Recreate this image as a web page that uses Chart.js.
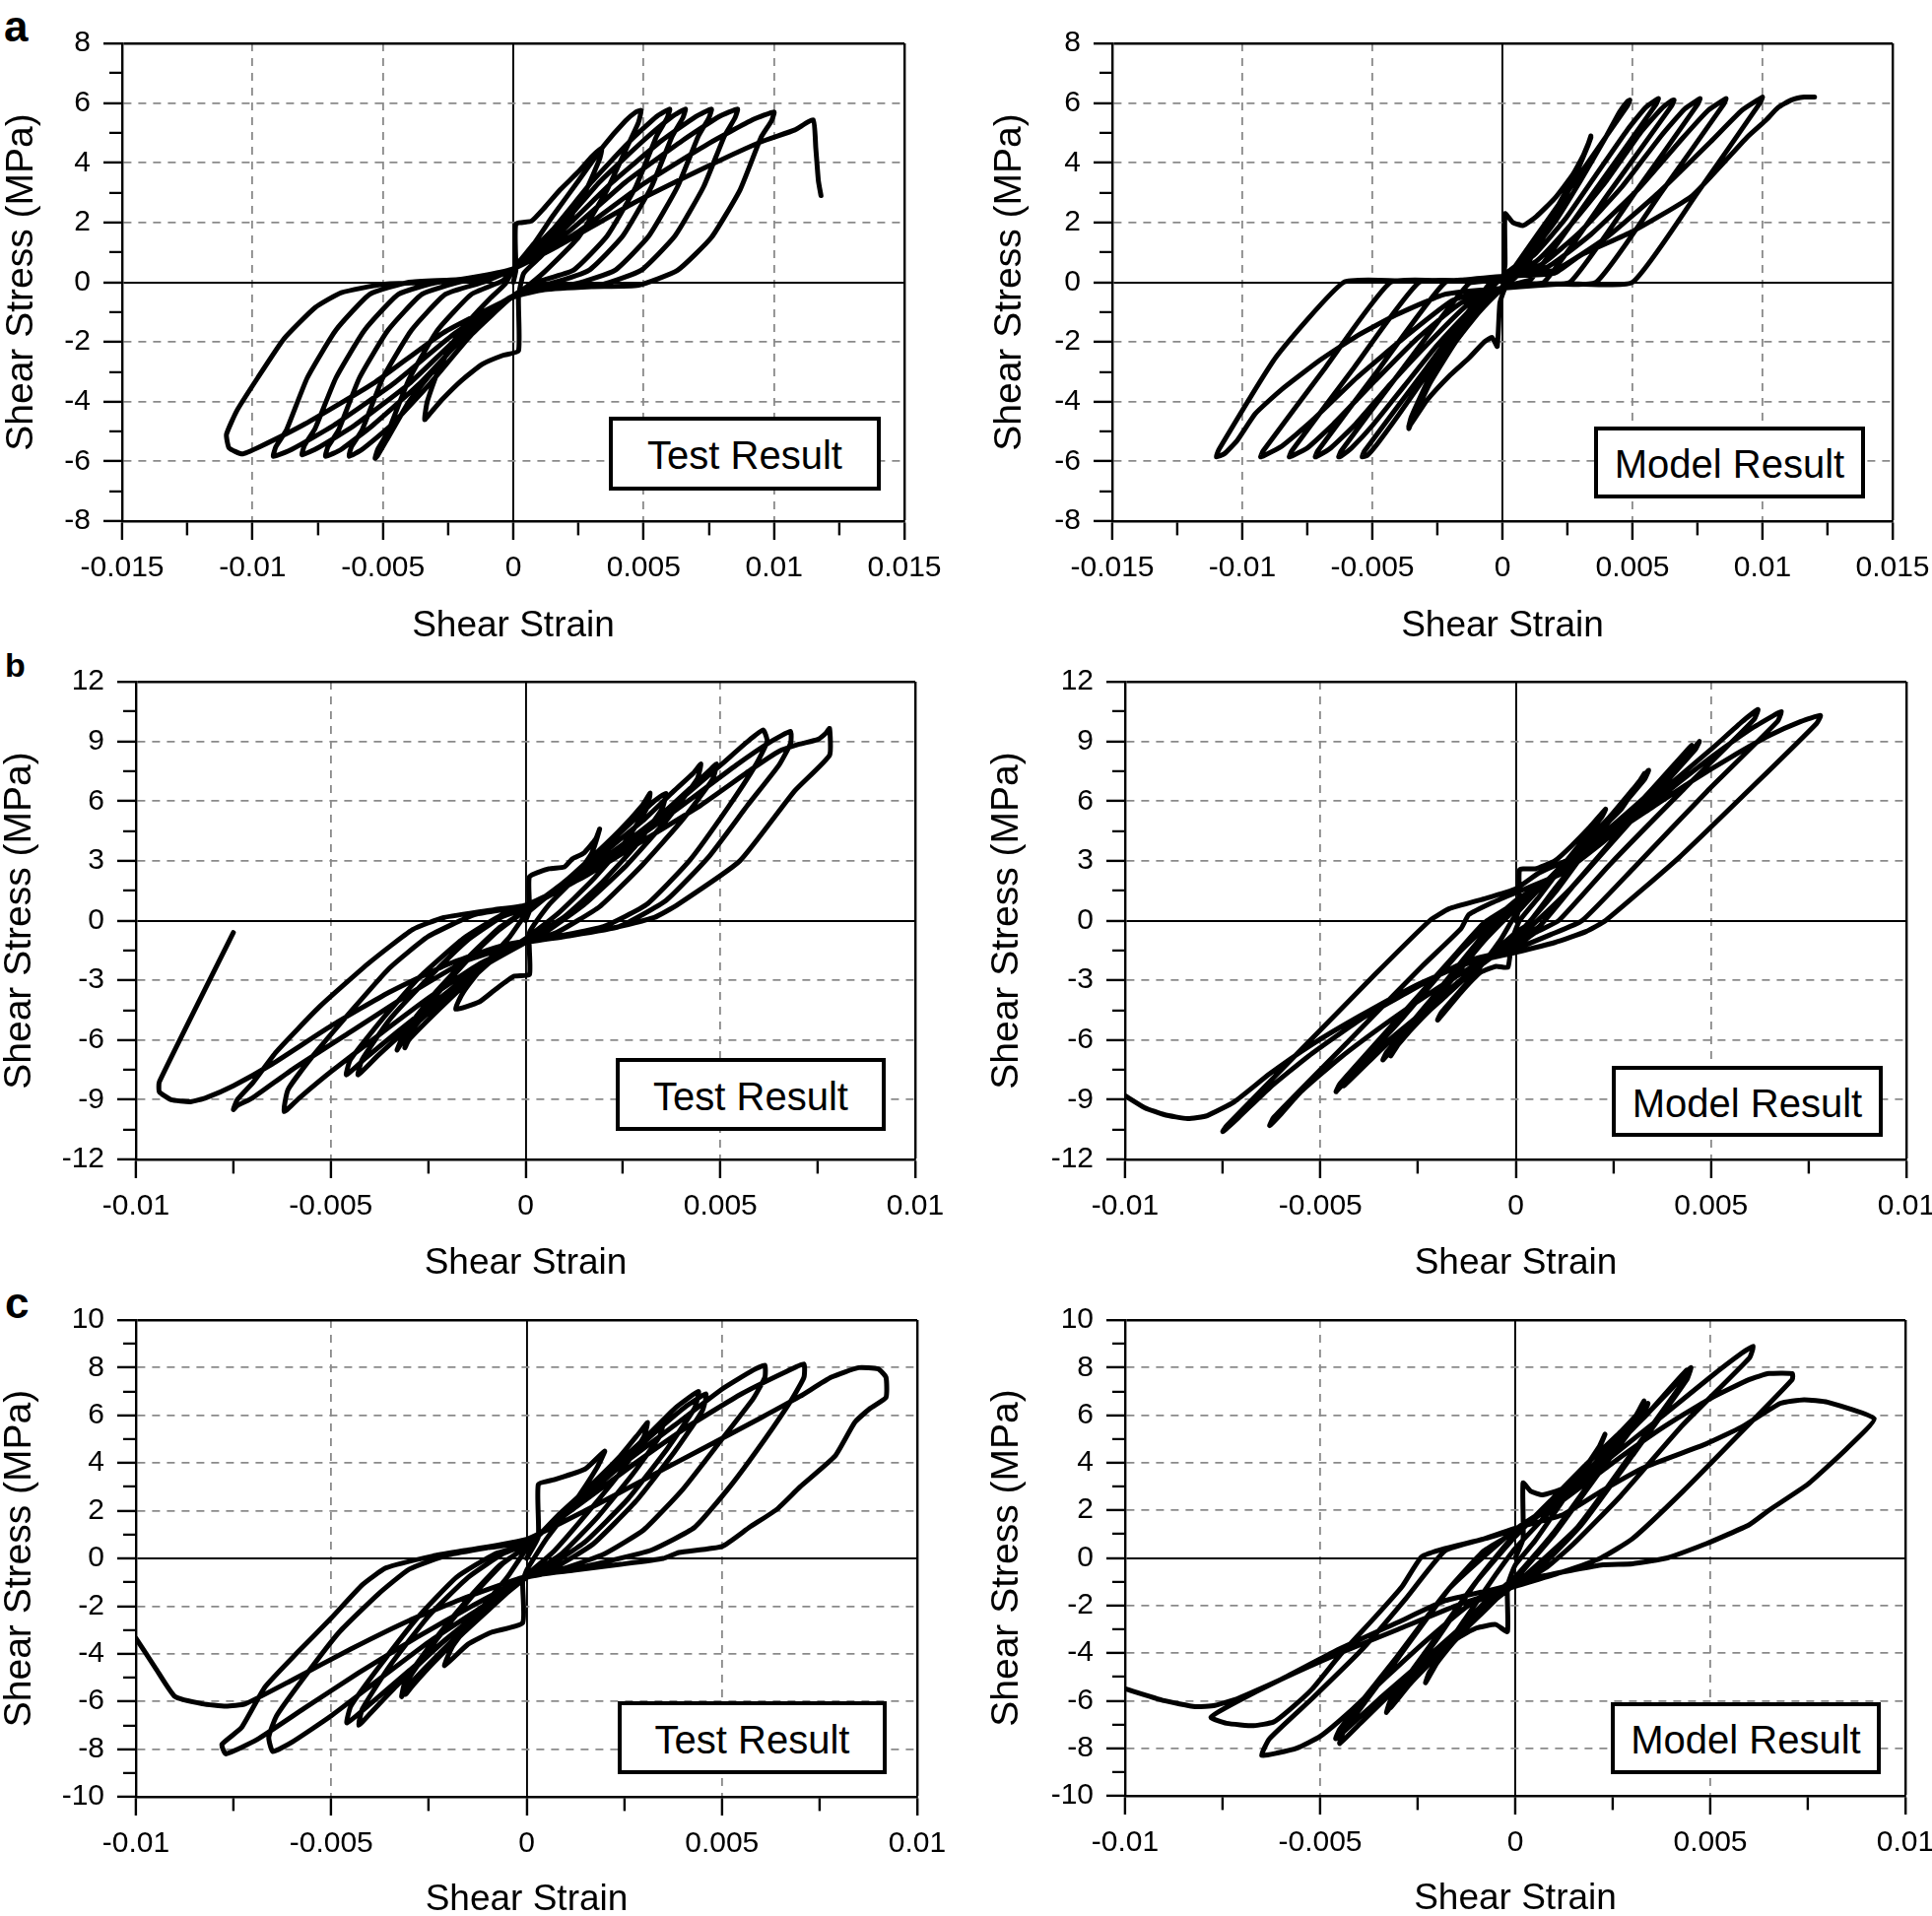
<!DOCTYPE html>
<html><head><meta charset="utf-8">
<script src="https://cdn.jsdelivr.net/npm/chart.js@4.4.1/dist/chart.umd.min.js"></script>
<style>
html,body{margin:0;padding:0;width:1961px;height:1945px;overflow:hidden;background:#fff;}
canvas{position:absolute;}
.lg{position:absolute;box-sizing:border-box;border:4px solid #000;background:#fff;font-family:'Liberation Sans',Arial,sans-serif;font-size:40px;color:#000;display:flex;align-items:center;justify-content:center;line-height:1;padding-top:3px;}
.pl{position:absolute;font-family:'Liberation Sans',Arial,sans-serif;font-weight:bold;line-height:1;color:#000;}
</style></head><body>
<div class="pl" style="left:4px;top:5px;font-size:44px;">a</div>
<div class="pl" style="left:5px;top:658px;font-size:34px;">b</div>
<div class="pl" style="left:5px;top:1301px;font-size:44px;">c</div>
<script>
// ---------- tick values ----------
const xTicksA = [-0.015, -0.01, -0.005, 0, 0.005, 0.01, 0.015];
const xMinorA = [-0.0125, -0.0075, -0.0025, 0.0025, 0.0075, 0.0125];
const yTicksA = [-8, -6, -4, -2, 0, 2, 4, 6, 8];
const yMinorA = [-7, -5, -3, -1, 1, 3, 5, 7];
const xTicksBC = [-0.01, -0.005, 0, 0.005, 0.01];
const xMinorBC = [-0.0075, -0.0025, 0.0025, 0.0075];
const yTicksB = [-12, -9, -6, -3, 0, 3, 6, 9, 12];
const yMinorB = [-10.5, -7.5, -4.5, -1.5, 1.5, 4.5, 7.5, 10.5];
const yTicksC = [-10, -8, -6, -4, -2, 0, 2, 4, 6, 8, 10];
const yMinorC = [-9, -7, -5, -3, -1, 1, 3, 5, 7, 9];
const xTitle = 'Shear Strain';
const yTitle = 'Shear Stress (MPa)';
const boxLabels = ['Test Result', 'Model Result'];

// ---------- series: [shear strain, shear stress (MPa)] ----------
const aTest = [
 [0,0],[0.0001,0.4],[0.0001,1.95],[0.0007,2.05],[0.0012,2.5],[0.0018,3.1],[0.0025,3.7],[0.003,4.2],[0.0034,4.5],
 [0.0033,4.1],[0.0028,3.1],[0.002,1.9],[0.0011,0.9],[0.0004,0.3],[0.0002,-0.5],[0.0002,-2.3],[-0.0004,-2.45],[-0.0012,-2.75],[-0.002,-3.3],[-0.0027,-3.9],[-0.0031,-4.3],[-0.0034,-4.6],
 [-0.0033,-4.0],[-0.0029,-3.0],[-0.0023,-2.0],[-0.0016,-1.2],[-0.0009,-0.55],[-0.0003,-0.05],[0,0.45],
 [0.0008,1.3],[0.0015,2.2],[0.0025,3.4],[0.0035,4.6],[0.0043,5.4],[0.0047,5.7],[0.0049,5.75],
 [0.0048,5.35],[0.0044,4.6],[0.0036,3.1],[0.0025,1.5],[0.0012,0.35],[0.0003,-0.3],[-0.0002,-0.6],
 [-0.001,-1.1],[-0.002,-1.9],[-0.003,-2.9],[-0.004,-4.0],[-0.0048,-5.2],[-0.0052,-5.8],[-0.0053,-5.9],
 [-0.0052,-5.6],[-0.0048,-5.0],[-0.004,-3.25],[-0.0029,-1.6],[-0.0016,-0.4],[-0.0004,0.05],[0,0.45],
 [0.0015,1.75],[0.003,3.35],[0.0045,4.75],[0.0055,5.55],[0.006,5.8],
 [0.0059,5.5],[0.0055,4.9],[0.0047,3.2],[0.0036,1.55],[0.0023,0.4],[0.0008,-0.02],[0,-0.45],
 [-0.0016,-1.75],[-0.0032,-3.4],[-0.0047,-4.8],[-0.0058,-5.6],[-0.0063,-5.83],
 [-0.0062,-5.5],[-0.0058,-4.95],[-0.005,-3.2],[-0.0039,-1.6],[-0.0026,-0.4],[-0.0011,0.02],[0,0.45],
 [0.0017,1.75],[0.0033,3.35],[0.005,4.75],[0.0061,5.55],[0.0066,5.8],
 [0.0065,5.5],[0.0061,4.9],[0.0053,3.2],[0.0042,1.55],[0.0029,0.4],[0.0014,-0.05],[0.0005,-0.2],[0,-0.45],
 [-0.0018,-1.75],[-0.0036,-3.4],[-0.0054,-4.8],[-0.0066,-5.6],[-0.0072,-5.83],
 [-0.0071,-5.5],[-0.0067,-4.95],[-0.0059,-3.2],[-0.0048,-1.6],[-0.0035,-0.4],[-0.002,0.02],[-0.0008,0.15],[0,0.45],
 [0.0019,1.75],[0.0038,3.35],[0.0057,4.75],[0.007,5.55],[0.0076,5.8],
 [0.0075,5.5],[0.0071,4.9],[0.0063,3.2],[0.0052,1.55],[0.0039,0.4],[0.0024,-0.05],[0.0008,-0.2],[0,-0.45],
 [-0.002,-1.75],[-0.004,-3.4],[-0.0061,-4.8],[-0.0075,-5.55],[-0.0081,-5.78],
 [-0.008,-5.45],[-0.0076,-4.9],[-0.0068,-3.2],[-0.0057,-1.6],[-0.0044,-0.4],[-0.0029,0.0],[-0.0012,0.1],[0,0.45],
 [0.0022,1.75],[0.0043,3.35],[0.0065,4.75],[0.0079,5.55],[0.0086,5.8],
 [0.0085,5.5],[0.0081,4.9],[0.0073,3.2],[0.0062,1.55],[0.0049,0.4],[0.0034,-0.08],[0.0015,-0.2],[0,-0.45],
 [-0.0023,-1.75],[-0.0046,-3.4],[-0.0069,-4.8],[-0.0085,-5.6],[-0.0092,-5.83],
 [-0.0091,-5.5],[-0.0087,-4.95],[-0.0079,-3.2],[-0.0068,-1.6],[-0.0055,-0.4],[-0.004,0.0],[-0.002,0.1],[0,0.45],
 [0.0025,1.7],[0.005,3.3],[0.0075,4.65],[0.0092,5.45],[0.01,5.7],
 [0.0099,5.4],[0.0095,4.85],[0.0087,3.1],[0.0076,1.5],[0.0063,0.4],[0.0048,-0.1],[0.003,-0.15],[0.0012,-0.25],[0,-0.5],
 [-0.0027,-1.7],[-0.0053,-3.35],[-0.008,-4.75],[-0.0097,-5.5],[-0.0104,-5.75],[-0.0109,-5.55],[-0.011,-5.1],
 [-0.0106,-4.3],[-0.0098,-3.2],[-0.0088,-1.9],[-0.0076,-0.85],[-0.0066,-0.35],[-0.005,-0.07],[-0.003,0.0],[-0.0015,0.1],[0,0.45],
 [0.0017,1.2],[0.0045,2.6],[0.0075,3.9],[0.0095,4.7],[0.0108,5.1],[0.0115,5.44],[0.0116,4.5],[0.0117,3.4],[0.0118,2.9]
];
const aModel = [
 [0,0],[0.0001,0.6],[0.0001,2.3],[0.0004,2.0],[0.0008,1.9],[0.0013,2.2],[0.002,2.8],[0.0027,3.6],[0.0032,4.4],[0.0034,4.9],
 [0.0033,4.6],[0.0025,3.0],[0.0015,1.4],[0.0007,0.5],[0.0001,-0.2],[-0.0001,-0.7],[-0.0002,-2.15],[-0.0004,-1.85],[-0.0007,-2.0],[-0.0013,-2.55],[-0.002,-3.1],[-0.0029,-3.95],[-0.0036,-4.85],
 [-0.0035,-4.5],[-0.0027,-3.0],[-0.0017,-1.5],[-0.0008,-0.45],[0,0.15],
 [0.0008,0.8],[0.0017,1.9],[0.0026,3.3],[0.0033,4.6],[0.0034,4.85],
 [0.0026,3.2],[0.0016,1.6],[0.0008,0.4],[0,-0.2],
 [-0.0009,-1.0],[-0.0018,-2.0],[-0.0028,-3.4],[-0.0035,-4.7],[-0.0036,-4.9],
 [-0.0027,-3.0],[-0.0017,-1.5],[-0.0008,-0.45],[0,0.2],
 [0.001,0.9],[0.002,2.0],[0.003,3.4],[0.004,4.9],[0.0045,5.7],[0.0048,6.05],[0.0049,6.1],
 [0.0048,5.9],[0.0024,2.9],[0.0003,0.3],[0,-0.15],
 [-0.001,-0.9],[-0.002,-2.0],[-0.003,-3.2],[-0.004,-4.45],[-0.0048,-5.4],[-0.0052,-5.8],[-0.0054,-5.85],
 [-0.0053,-5.65],[-0.0029,-2.85],[-0.0005,-0.05],[0,0.2],
 [0.0012,0.9],[0.0024,2.1],[0.0036,3.6],[0.0048,5.1],[0.0055,5.85],[0.0059,6.1],[0.006,6.15],
 [0.0059,5.95],[0.0035,3.0],[0.0011,0.1],[0.0005,-0.05],[0,-0.2],
 [-0.0012,-0.9],[-0.0025,-2.1],[-0.0038,-3.5],[-0.005,-4.8],[-0.0058,-5.55],[-0.0062,-5.82],[-0.0063,-5.85],
 [-0.0062,-5.65],[-0.0038,-2.85],[-0.0013,-0.05],[-0.0005,0.05],[0,0.2],
 [0.0013,0.7],[0.0026,1.9],[0.004,3.4],[0.0053,5.0],[0.0061,5.8],[0.0065,6.08],[0.0066,6.1],
 [0.0065,5.9],[0.0041,3.0],[0.0016,0.0],[0.0006,-0.05],[0,-0.2],
 [-0.0014,-0.8],[-0.0028,-2.0],[-0.0043,-3.4],[-0.0057,-4.8],[-0.0066,-5.55],[-0.0071,-5.82],[-0.0072,-5.85],
 [-0.0071,-5.65],[-0.0047,-2.85],[-0.0022,0.0],[-0.0008,0.05],[0,0.2],
 [0.0015,0.6],[0.003,1.7],[0.0046,3.2],[0.0061,4.9],[0.007,5.8],[0.0075,6.1],[0.0076,6.15],
 [0.0075,5.95],[0.0051,3.0],[0.0026,0.0],[0.001,-0.05],[0,-0.2],
 [-0.0016,-0.7],[-0.0033,-1.9],[-0.0049,-3.3],[-0.0065,-4.75],[-0.0075,-5.55],[-0.0081,-5.82],[-0.0082,-5.85],
 [-0.0081,-5.65],[-0.0057,-2.85],[-0.0032,0.0],[-0.0012,0.05],[0,0.2],
 [0.0017,0.5],[0.0034,1.6],[0.0052,3.1],[0.0069,4.8],[0.0079,5.75],[0.0085,6.1],[0.0086,6.15],
 [0.0085,5.95],[0.0061,3.0],[0.0036,0.0],[0.0015,-0.05],[0,-0.2],
 [-0.0019,-0.6],[-0.0037,-1.8],[-0.0056,-3.2],[-0.0074,-4.7],[-0.0085,-5.5],[-0.0092,-5.82],[-0.0093,-5.85],
 [-0.0092,-5.65],[-0.0068,-2.85],[-0.0043,0.0],[-0.002,0.05],[0,0.2],
 [0.002,0.4],[0.004,1.5],[0.006,3.0],[0.008,4.7],[0.0092,5.75],[0.0099,6.15],[0.01,6.2],
 [0.0099,6.0],[0.0075,3.0],[0.005,0.0],[0.0025,-0.05],[0,-0.2],
 [-0.0022,-0.4],[-0.0041,-1.1],[-0.0056,-1.8],[-0.007,-2.6],[-0.0085,-3.6],[-0.0095,-4.4],[-0.0102,-5.3],[-0.0107,-5.75],[-0.011,-5.85],
 [-0.0109,-5.6],[-0.0087,-2.5],[-0.0061,0.0],[-0.004,0.05],[-0.002,0.05],[0,0.2],
 [0.002,0.3],[0.003,0.9],[0.005,1.7],[0.0073,2.9],[0.0094,4.85],[0.0101,5.4],[0.0106,5.85],[0.0111,6.1],[0.0116,6.2],[0.012,6.2]
];
const bTest = [
 [0,0],[0.0001,0.5],[0.0001,2.2],[0.0006,2.6],[0.001,2.7],[0.0012,3.1],[0.0015,3.4],[0.0018,4.1],[0.0019,4.6],
 [0.0017,3.4],[0.0012,2.0],[0.0006,0.8],[0.0001,-0.6],[0.0001,-2.7],[-0.0003,-2.8],[-0.0008,-3.5],[-0.0012,-4.1],[-0.0018,-4.45],
 [-0.0016,-3.6],[-0.001,-2.1],[-0.0004,-0.8],[0,0.3],
 [0.0008,1.6],[0.0016,3.0],[0.0024,4.5],[0.003,5.8],[0.0032,6.4],
 [0.0031,5.6],[0.0025,3.8],[0.0017,2.0],[0.0008,0.3],[0,-0.9],
 [-0.0008,-1.9],[-0.0016,-3.3],[-0.0024,-4.8],[-0.003,-6.0],[-0.0031,-6.4],
 [-0.003,-5.7],[-0.0024,-4.0],[-0.0015,-2.0],[-0.0007,-0.5],[0,0.5],
 [0.0009,1.8],[0.0018,3.3],[0.0027,4.9],[0.0033,6.0],[0.0036,6.4],
 [0.0035,5.6],[0.0028,3.7],[0.0019,1.8],[0.001,0.2],[0,-1.0],
 [-0.0009,-2.0],[-0.0018,-3.5],[-0.0027,-5.0],[-0.0032,-6.2],[-0.0033,-6.5],
 [-0.0031,-5.6],[-0.0024,-3.8],[-0.0015,-1.9],[-0.0007,-0.4],[0,0.5],
 [0.001,1.8],[0.002,3.4],[0.003,5.0],[0.0038,6.5],[0.0043,7.4],[0.0045,7.86],
 [0.0044,7.1],[0.0036,5.0],[0.0026,2.8],[0.0015,0.8],[0.0005,-0.6],[0,-1.1],
 [-0.001,-2.2],[-0.002,-3.8],[-0.003,-5.4],[-0.0038,-6.8],[-0.0043,-7.75],
 [-0.0042,-7.0],[-0.0035,-5.0],[-0.0025,-2.9],[-0.0015,-1.0],[-0.0006,0.2],[0,0.6],
 [0.0011,1.8],[0.0022,3.4],[0.0033,5.0],[0.0042,6.6],[0.0047,7.5],[0.0049,7.86],
 [0.0048,7.1],[0.004,5.0],[0.003,2.8],[0.0019,0.7],[0.0008,-0.6],[0,-1.1],
 [-0.0011,-2.2],[-0.0022,-3.9],[-0.0033,-5.6],[-0.0041,-6.9],[-0.0046,-7.75],
 [-0.0045,-7.0],[-0.0037,-5.0],[-0.0027,-2.8],[-0.0016,-0.9],[-0.0006,0.3],[0,0.65],
 [0.0012,1.9],[0.0025,3.8],[0.0038,5.8],[0.005,7.8],[0.0057,9.0],[0.0061,9.57],
 [0.0062,9.0],[0.0059,7.8],[0.0052,5.7],[0.0042,3.0],[0.0031,0.8],[0.002,-0.3],[0.0008,-0.8],[0,-1.1],
 [-0.0012,-2.2],[-0.0025,-3.9],[-0.0038,-5.8],[-0.005,-7.6],[-0.0058,-8.9],[-0.0062,-9.6],
 [-0.0061,-8.5],[-0.0055,-6.9],[-0.0045,-4.6],[-0.0035,-2.4],[-0.0025,-0.8],[-0.0013,0.3],[0,0.75],
 [0.0013,2.0],[0.0027,3.9],[0.0041,5.9],[0.0054,7.8],[0.0063,9.0],[0.0068,9.5],
 [0.0068,8.9],[0.0065,7.8],[0.0057,5.8],[0.0047,3.2],[0.0036,1.0],[0.0024,-0.3],[0.001,-0.8],[0,-1.1],
 [-0.0015,-2.0],[-0.003,-3.7],[-0.0045,-5.6],[-0.006,-7.5],[-0.007,-8.9],[-0.0074,-9.3],[-0.0075,-9.5],
 [-0.0074,-9.0],[-0.007,-8.15],[-0.0064,-6.6],[-0.0053,-4.35],[-0.004,-2.1],[-0.0029,-0.45],[-0.0021,0.15],[-0.0008,0.55],[0,0.78],
 [0.0015,2.2],[0.003,4.0],[0.0045,5.8],[0.0058,7.6],[0.0065,8.5],[0.007,8.85],[0.0075,9.1],[0.0077,9.4],[0.0078,9.65],[0.0078,8.3],
 [0.0069,6.5],[0.0055,3.0],[0.0039,0.8],[0.0033,0.15],[0.0023,-0.35],[0.0007,-0.85],[-0.0005,-1.2],[-0.002,-2.2],
 [-0.0035,-3.6],[-0.005,-5.3],[-0.0065,-7.2],[-0.0075,-8.3],[-0.0082,-8.9],[-0.0086,-9.1],[-0.0091,-9.0],[-0.0094,-8.6],[-0.0094,-8.1],[-0.0075,-0.6]
];
const bModel = [
 [0,0],[0.0001,0.8],[0.0001,2.55],[0.0005,2.6],[0.001,3.0],[0.0014,3.7],[0.0019,4.7],[0.0023,5.6],
 [0.0022,5.2],[0.0013,3.0],[0.0006,1.2],[0.0001,0.0],[-0.0001,-1.0],[-0.0002,-2.35],[-0.0005,-2.3],[-0.0009,-2.6],[-0.0014,-3.6],[-0.002,-5.0],
 [-0.0019,-4.6],[-0.0011,-2.8],[-0.0004,-1.0],[0,0.3],
 [0.0008,2.0],[0.0016,3.6],[0.0024,5.2],[0.003,6.6],[0.0034,7.55],
 [0.0033,7.1],[0.0021,4.3],[0.001,1.6],[0.0003,-0.2],[0,-0.6],
 [-0.0008,-2.0],[-0.0016,-3.4],[-0.0024,-4.9],[-0.003,-6.2],[-0.0032,-6.8],
 [-0.0031,-6.4],[-0.0019,-3.6],[-0.0008,-1.0],[0,0.6],
 [0.0009,2.1],[0.0018,3.9],[0.0027,5.6],[0.0033,7.4],
 [0.0032,7.0],[0.0022,4.6],[0.001,1.4],[0,-0.8],
 [-0.0009,-2.2],[-0.0018,-3.8],[-0.0027,-5.4],[-0.0034,-7.0],
 [-0.0033,-6.6],[-0.0021,-3.8],[-0.0009,-0.9],[0,0.8],
 [0.001,2.2],[0.002,3.9],[0.003,5.6],[0.004,7.4],[0.0045,8.5],[0.0047,9.0],
 [0.0046,8.6],[0.003,5.1],[0.0015,1.8],[0.0006,-0.3],[0,-1.0],
 [-0.001,-2.4],[-0.002,-4.0],[-0.003,-5.6],[-0.004,-7.3],[-0.0046,-8.6],
 [-0.0045,-8.2],[-0.003,-4.9],[-0.0015,-1.6],[-0.0008,-0.1],[0,0.9],
 [0.0011,2.4],[0.0022,4.3],[0.0033,6.2],[0.0045,8.8],
 [0.0044,8.4],[0.0029,5.0],[0.0014,1.6],[0,-1.0],
 [-0.0011,-2.5],[-0.0022,-4.3],[-0.0033,-6.2],[-0.0044,-8.3],
 [-0.0043,-7.9],[-0.0029,-4.9],[-0.0014,-1.5],[0,1.0],
 [0.0012,2.5],[0.0025,4.5],[0.0038,6.6],[0.005,8.6],[0.0058,10.0],[0.0062,10.6],
 [0.0061,10.1],[0.0043,6.6],[0.0024,2.8],[0.0011,0.0],[0.0005,-0.6],[0,-1.3],
 [-0.001,-2.2],[-0.002,-3.4],[-0.0032,-5.0],[-0.0045,-6.9],[-0.0055,-8.6],[-0.006,-9.7],[-0.0063,-10.3],
 [-0.0062,-9.9],[-0.0043,-6.1],[-0.0024,-2.3],[-0.0014,-0.4],[-0.0012,0.3],[-0.0006,0.9],[0,1.4],
 [0.0012,2.4],[0.0024,4.2],[0.0037,6.2],[0.005,8.2],[0.006,9.6],[0.0066,10.3],[0.0068,10.5],
 [0.0067,10.0],[0.0049,6.5],[0.003,2.6],[0.0017,0.0],[0.0009,-0.7],[0,-1.4],
 [-0.0012,-2.0],[-0.0025,-3.3],[-0.004,-5.0],[-0.0053,-6.8],[-0.0063,-8.4],[-0.0071,-9.9],[-0.0075,-10.6],
 [-0.0074,-10.3],[-0.0055,-6.5],[-0.0036,-2.7],[-0.0022,0.0],[-0.0017,0.6],[-0.0008,1.1],[0,1.6],
 [0.0006,2.4],[0.0015,3.2],[0.0025,4.4],[0.0035,5.7],[0.0045,7.0],[0.0055,8.2],[0.0065,9.3],[0.0073,10.0],[0.0078,10.3],
 [0.0077,9.9],[0.0061,6.8],[0.0042,3.2],[0.0023,0.0],[0.0018,-0.55],[0.001,-1.1],[0,-1.6],
 [-0.0013,-2.2],[-0.0025,-3.2],[-0.004,-4.8],[-0.0052,-6.2],[-0.0063,-7.7],[-0.0072,-9.1],[-0.0079,-9.8],[-0.0084,-9.95],[-0.009,-9.75],[-0.0095,-9.4],[-0.01,-8.8]
];
const cTest = [
 [0,0],[0.0003,0.9],[0.0003,3.1],[0.0007,3.3],[0.0015,3.75],[0.002,4.5],
 [0.0018,3.8],[0.0012,2.3],[0.0005,0.8],[0,-0.5],[-0.0001,-1.0],[-0.0001,-2.7],[-0.0009,-3.1],[-0.0015,-3.6],[-0.0021,-4.5],
 [-0.0019,-3.7],[-0.0012,-2.2],[-0.0005,-0.8],[0,0.4],
 [0.0008,1.8],[0.0016,3.0],[0.0024,4.3],[0.0029,5.3],[0.0031,5.7],
 [0.003,5.1],[0.0024,3.6],[0.0015,1.8],[0.0007,0.3],[0,-0.7],
 [-0.0008,-1.9],[-0.0016,-3.1],[-0.0024,-4.4],[-0.0029,-5.3],[-0.0031,-5.7],
 [-0.003,-5.0],[-0.0023,-3.4],[-0.0014,-1.6],[-0.0006,-0.2],[0,0.5],
 [0.0009,1.9],[0.0018,3.2],[0.0027,4.5],[0.0033,5.4],[0.0035,5.7],
 [0.0034,5.1],[0.0027,3.5],[0.0018,1.7],[0.0009,0.2],[0,-0.8],
 [-0.0009,-2.0],[-0.0018,-3.3],[-0.0026,-4.6],[-0.0031,-5.5],[-0.0032,-5.8],
 [-0.0031,-5.1],[-0.0024,-3.5],[-0.0015,-1.7],[-0.0007,-0.3],[0,0.5],
 [0.001,2.0],[0.002,3.5],[0.003,5.0],[0.0038,6.3],[0.0044,7.0],
 [0.0043,6.3],[0.0036,4.6],[0.0026,2.5],[0.0015,0.7],[0.0005,-0.4],[0,-0.8],
 [-0.001,-2.0],[-0.002,-3.3],[-0.003,-4.7],[-0.004,-6.1],[-0.0046,-6.9],
 [-0.0045,-6.2],[-0.0038,-4.6],[-0.0028,-2.5],[-0.0018,-0.8],[-0.0008,0.2],[0,0.6],
 [0.0011,2.1],[0.0022,3.7],[0.0033,5.3],[0.0041,6.4],[0.0046,6.9],
 [0.0045,6.2],[0.0038,4.5],[0.0028,2.4],[0.0017,0.6],[0.0007,-0.4],[0,-0.8],
 [-0.0011,-2.1],[-0.0022,-3.6],[-0.0033,-5.3],[-0.004,-6.5],[-0.0043,-7.0],
 [-0.0042,-6.3],[-0.0035,-4.5],[-0.0025,-2.4],[-0.0015,-0.8],[-0.0006,0.2],[0,0.6],
 [0.0012,2.2],[0.0025,4.0],[0.0038,5.6],[0.005,7.1],[0.0058,7.9],[0.0061,8.1],
 [0.0061,7.6],[0.0058,6.7],[0.005,5.0],[0.004,2.9],[0.003,1.2],[0.002,0.2],[0.001,-0.4],[0,-0.8],
 [-0.0012,-2.1],[-0.0025,-3.5],[-0.0038,-5.1],[-0.005,-6.6],[-0.006,-7.7],[-0.0065,-8.1],
 [-0.0066,-7.5],[-0.0064,-6.6],[-0.0057,-5.0],[-0.0048,-3.1],[-0.0038,-1.5],[-0.003,-0.45],[-0.002,0.15],[-0.001,0.45],[0,0.7],
 [0.0013,2.2],[0.0027,3.9],[0.0041,5.5],[0.0055,6.9],[0.0066,7.8],[0.0071,8.15],
 [0.0071,7.6],[0.0068,6.7],[0.0061,5.0],[0.0052,3.0],[0.0043,1.3],[0.0032,0.35],[0.002,-0.15],[0.001,-0.5],[0,-0.8],
 [-0.0014,-2.0],[-0.0028,-3.3],[-0.0043,-4.8],[-0.0057,-6.3],[-0.0069,-7.6],[-0.0077,-8.2],
 [-0.0078,-7.8],[-0.0073,-7.1],[-0.0067,-5.4],[-0.0059,-4.0],[-0.005,-2.5],[-0.0042,-1.1],[-0.0036,-0.4],[-0.0024,0.1],[-0.0015,0.35],[0,0.8],
 [0.0015,2.0],[0.003,3.3],[0.0045,4.6],[0.006,5.9],[0.007,6.8],[0.0078,7.6],[0.0085,8.0],[0.009,7.95],[0.0092,7.6],[0.0092,6.75],
 [0.0088,6.3],[0.0084,5.7],[0.0079,4.3],[0.007,3.0],[0.0064,2.05],[0.0057,1.3],[0.005,0.5],[0.0039,0.25],[0.0035,0.0],[0.0024,-0.25],[0.0012,-0.5],[0,-0.75],
 [-0.0015,-1.6],[-0.003,-2.6],[-0.0045,-3.8],[-0.006,-5.1],[-0.0072,-6.1],[-0.0077,-6.2],[-0.0083,-6.1],[-0.009,-5.8],[-0.0095,-4.6],[-0.01,-3.35]
];
const cModel = [
 [0,0],[0.0002,0.8],[0.0002,3.15],[0.0004,2.8],[0.0007,2.65],[0.0012,2.9],[0.0017,3.6],[0.0021,4.5],[0.0023,5.2],
 [0.0022,4.8],[0.0013,2.6],[0.0005,0.7],[0,-0.3],[-0.0002,-1.2],[-0.0002,-3.1],[-0.0005,-2.8],[-0.001,-2.95],[-0.0015,-3.4],[-0.002,-4.4],[-0.0023,-5.25],
 [-0.0022,-4.8],[-0.0013,-2.6],[-0.0005,-0.7],[0,0.4],
 [0.0008,1.8],[0.0016,3.2],[0.0025,4.8],[0.0031,6.0],[0.0033,6.6],
 [0.0032,6.1],[0.0021,3.6],[0.001,1.1],[0,-0.8],
 [-0.0008,-1.9],[-0.0016,-3.3],[-0.0025,-4.9],[-0.0031,-6.0],[-0.0033,-6.5],
 [-0.0032,-6.0],[-0.0021,-3.5],[-0.001,-1.0],[0,0.9],
 [0.0009,2.4],[0.0018,3.9],[0.0027,5.3],[0.0034,6.5],
 [0.0033,6.1],[0.0022,3.7],[0.001,1.0],[0,-0.9],
 [-0.0009,-2.4],[-0.0018,-3.8],[-0.0027,-5.3],[-0.0032,-6.3],
 [-0.0031,-5.9],[-0.002,-3.4],[-0.001,-1.0],[0,1.0],
 [0.001,2.3],[0.002,3.8],[0.003,5.4],[0.004,7.1],[0.0045,8.0],
 [0.0044,7.5],[0.003,4.3],[0.0017,1.4],[0.0007,-0.3],[0,-1.0],
 [-0.001,-2.4],[-0.002,-3.9],[-0.003,-5.4],[-0.004,-7.0],[-0.0045,-7.8],
 [-0.0044,-7.3],[-0.003,-4.2],[-0.0017,-1.3],[-0.0008,0.3],[0,1.1],
 [0.0011,2.5],[0.0022,4.2],[0.0033,5.9],[0.0044,7.9],
 [0.0043,7.4],[0.0029,4.2],[0.0016,1.3],[0,-1.1],
 [-0.0011,-2.5],[-0.0022,-4.1],[-0.0034,-5.8],[-0.0046,-7.6],
 [-0.0045,-7.2],[-0.0031,-4.3],[-0.0017,-1.3],[0,1.2],
 [0.0012,2.5],[0.0025,4.3],[0.0038,6.0],[0.005,7.6],[0.0058,8.6],[0.0061,8.9],
 [0.006,8.4],[0.0043,5.6],[0.0027,2.6],[0.0015,0.6],[0.0008,-0.4],[0,-1.1],
 [-0.0012,-2.0],[-0.0023,-3.5],[-0.0033,-5.0],[-0.0042,-6.4],[-0.005,-7.5],[-0.0056,-8.0],[-0.0061,-8.2],[-0.0065,-8.3],
 [-0.0063,-7.6],[-0.0052,-5.9],[-0.0039,-3.8],[-0.0028,-1.7],[-0.0018,0.3],[-0.0008,0.8],[0,1.2],
 [0.0012,2.4],[0.0025,4.0],[0.0038,5.5],[0.005,6.7],[0.006,7.5],[0.0065,7.75],[0.0071,7.75],
 [0.0071,7.5],[0.0058,5.3],[0.0043,2.8],[0.003,0.8],[0.0022,0.0],[0.0012,-0.6],[0,-1.2],
 [-0.0015,-2.0],[-0.003,-3.0],[-0.0045,-4.0],[-0.006,-5.1],[-0.0072,-6.1],[-0.0078,-6.7],
 [-0.0074,-6.95],[-0.0067,-7.05],[-0.0062,-6.9],[-0.0058,-6.4],[-0.0052,-5.5],[-0.0045,-4.1],[-0.0036,-2.5],[-0.0029,-1.2],[-0.0024,0.05],[-0.0018,0.4],[-0.0008,0.8],[0,1.25],
 [0.0012,1.8],[0.0022,2.8],[0.0033,3.8],[0.0049,4.8],[0.0058,5.5],[0.0068,6.5],[0.0074,6.65],[0.008,6.55],[0.0092,5.85],
 [0.0085,4.6],[0.0075,3.1],[0.0065,2.0],[0.006,1.4],[0.0049,0.6],[0.0039,0.0],[0.003,-0.25],[0.0022,-0.3],[0.0006,-0.8],[-0.0005,-1.3],
 [-0.0018,-1.8],[-0.003,-2.7],[-0.0046,-3.9],[-0.006,-5.1],[-0.0071,-5.9],[-0.0077,-6.2],[-0.0082,-6.25],[-0.009,-6.0],[-0.01,-5.5]
];

// ---------- drawing ----------
Chart.defaults.font.family = "'Liberation Sans', Arial, Helvetica, sans-serif";
Chart.defaults.color = '#000';

const near = (a, b) => Math.abs(a - b) < 1e-9;

function axis(major, minor, horizontal, title, titlePad, fitSize) {
  const all = major.concat(minor).sort((a, b) => a - b);
  const lo = major[0], hi = major[major.length - 1];
  const isMaj = v => major.some(m => near(m, v));
  return {
    type: 'linear', position: horizontal ? 'bottom' : 'left',
    min: lo, max: hi, bounds: 'data',
    afterBuildTicks: s => { s.ticks = all.map(v => ({ value: v })); },
    afterFit: s => { if (horizontal) s.height = fitSize; else s.width = fitSize; },
    ticks: {
      autoSkip: false, maxRotation: 0, minRotation: 0,
      padding: horizontal ? 14 : 13, color: '#000',
      font: { size: 30, lineHeight: 1 },
      callback: v => { const m = major.find(t => near(t, v)); return m === undefined ? '' : String(m); }
    },
    grid: {
      display: true, drawOnChartArea: true, drawTicks: true,
      tickLength: 19, tickWidth: 2.4, tickColor: '#000',
      tickBorderDash: c => (c.tick && !isMaj(c.tick.value)) ? (horizontal ? [13, 100] : [0, 6, 13, 100]) : [],
      color: c => {
        if (!c.tick) return 'rgba(0,0,0,0)';
        const v = c.tick.value;
        if (!isMaj(v) || near(v, lo)) return 'rgba(0,0,0,0)';
        if (near(v, 0) || near(v, hi)) return '#000';
        return '#8a8a8a';
      },
      lineWidth: c => {
        if (!c.tick) return 1;
        const v = c.tick.value;
        if (near(v, hi)) return 2.4;
        if (near(v, 0)) return 1.9;
        return 1.8;
      }
    },
    border: {
      display: true, color: '#000', width: 2.4,
      dash: c => (c.tick && (near(c.tick.value, 0) || near(c.tick.value, hi))) ? [] : [8, 7]
    },
    title: {
      display: true, text: title, color: '#000',
      font: { size: horizontal ? 37 : 39, lineHeight: 1 },
      padding: horizontal ? { top: 0, bottom: titlePad } : { top: titlePad, bottom: 0 }
    }
  };
}

const panels = [
  { data: aTest,  xM: xTicksA,  xm: xMinorA,  yM: yTicksA, ym: yMinorA, cx: 0,    cy: 14,   cw: 978, ch: 645, yw: 124, yp: 2.5, xp: 4.5,
    box: { t: boxLabels[0], l: 618,  tp: 423,  w: 276, h: 75 } },
  { data: aModel, xM: xTicksA,  xm: xMinorA,  yM: yTicksA, ym: yMinorA, cx: 1004, cy: 14,   cw: 977, ch: 645, yw: 125, yp: 1.5, xp: 4.5,
    box: { t: boxLabels[1], l: 1618, tp: 433,  w: 275, h: 73 } },
  { data: bTest,  xM: xTicksBC, xm: xMinorBC, yM: yTicksB, ym: yMinorB, cx: 0,    cy: 662,  cw: 989, ch: 645, yw: 138, yp: 0.5, xp: 5.5,
    box: { t: boxLabels[0], l: 625,  tp: 1074, w: 274, h: 74 } },
  { data: bModel, xM: xTicksBC, xm: xMinorBC, yM: yTicksB, ym: yMinorB, cx: 1002, cy: 662,  cw: 993, ch: 645, yw: 140, yp: 0.5, xp: 5.5,
    box: { t: boxLabels[1], l: 1636, tp: 1082, w: 275, h: 72 } },
  { data: cTest,  xM: xTicksBC, xm: xMinorBC, yM: yTicksC, ym: yMinorC, cx: 0,    cy: 1310, cw: 991, ch: 644, yw: 138, yp: 0.5, xp: 6.5,
    box: { t: boxLabels[0], l: 627,  tp: 1727, w: 273, h: 74 } },
  { data: cModel, xM: xTicksBC, xm: xMinorBC, yM: yTicksC, ym: yMinorC, cx: 1002, cy: 1310, cw: 992, ch: 643, yw: 140, yp: 1.0, xp: 6.5,
    box: { t: boxLabels[1], l: 1635, tp: 1728, w: 274, h: 73 } }
];

panels.forEach(p => {
  const cv = document.createElement('canvas');
  cv.width = p.cw; cv.height = p.ch;
  cv.style.left = p.cx + 'px'; cv.style.top = p.cy + 'px';
  cv.style.width = p.cw + 'px'; cv.style.height = p.ch + 'px';
  document.body.appendChild(cv);
  new Chart(cv.getContext('2d'), {
    type: 'scatter',
    data: { datasets: [{
      data: p.data.map(d => ({ x: d[0], y: d[1] })),
      showLine: true, borderColor: '#000', backgroundColor: '#000',
      borderWidth: 5, pointRadius: 0, pointHoverRadius: 0,
      tension: 0.15, fill: false, borderJoinStyle: 'round', borderCapStyle: 'round'
    }] },
    options: {
      responsive: false, maintainAspectRatio: false, animation: false, devicePixelRatio: 1,
      events: [],
      layout: { padding: { left: 0, top: 30, right: 60, bottom: 0 } },
      plugins: { legend: { display: false }, tooltip: { enabled: false } },
      scales: {
        x: axis(p.xM, p.xm, true, xTitle, p.xp, 130),
        y: axis(p.yM, p.ym, false, yTitle, p.yp, p.yw)
      }
    }
  });
  const b = document.createElement('div');
  b.className = 'lg';
  b.textContent = p.box.t;
  b.style.left = p.box.l + 'px'; b.style.top = p.box.tp + 'px';
  b.style.width = p.box.w + 'px'; b.style.height = p.box.h + 'px';
  document.body.appendChild(b);
});
</script>
</body></html>
